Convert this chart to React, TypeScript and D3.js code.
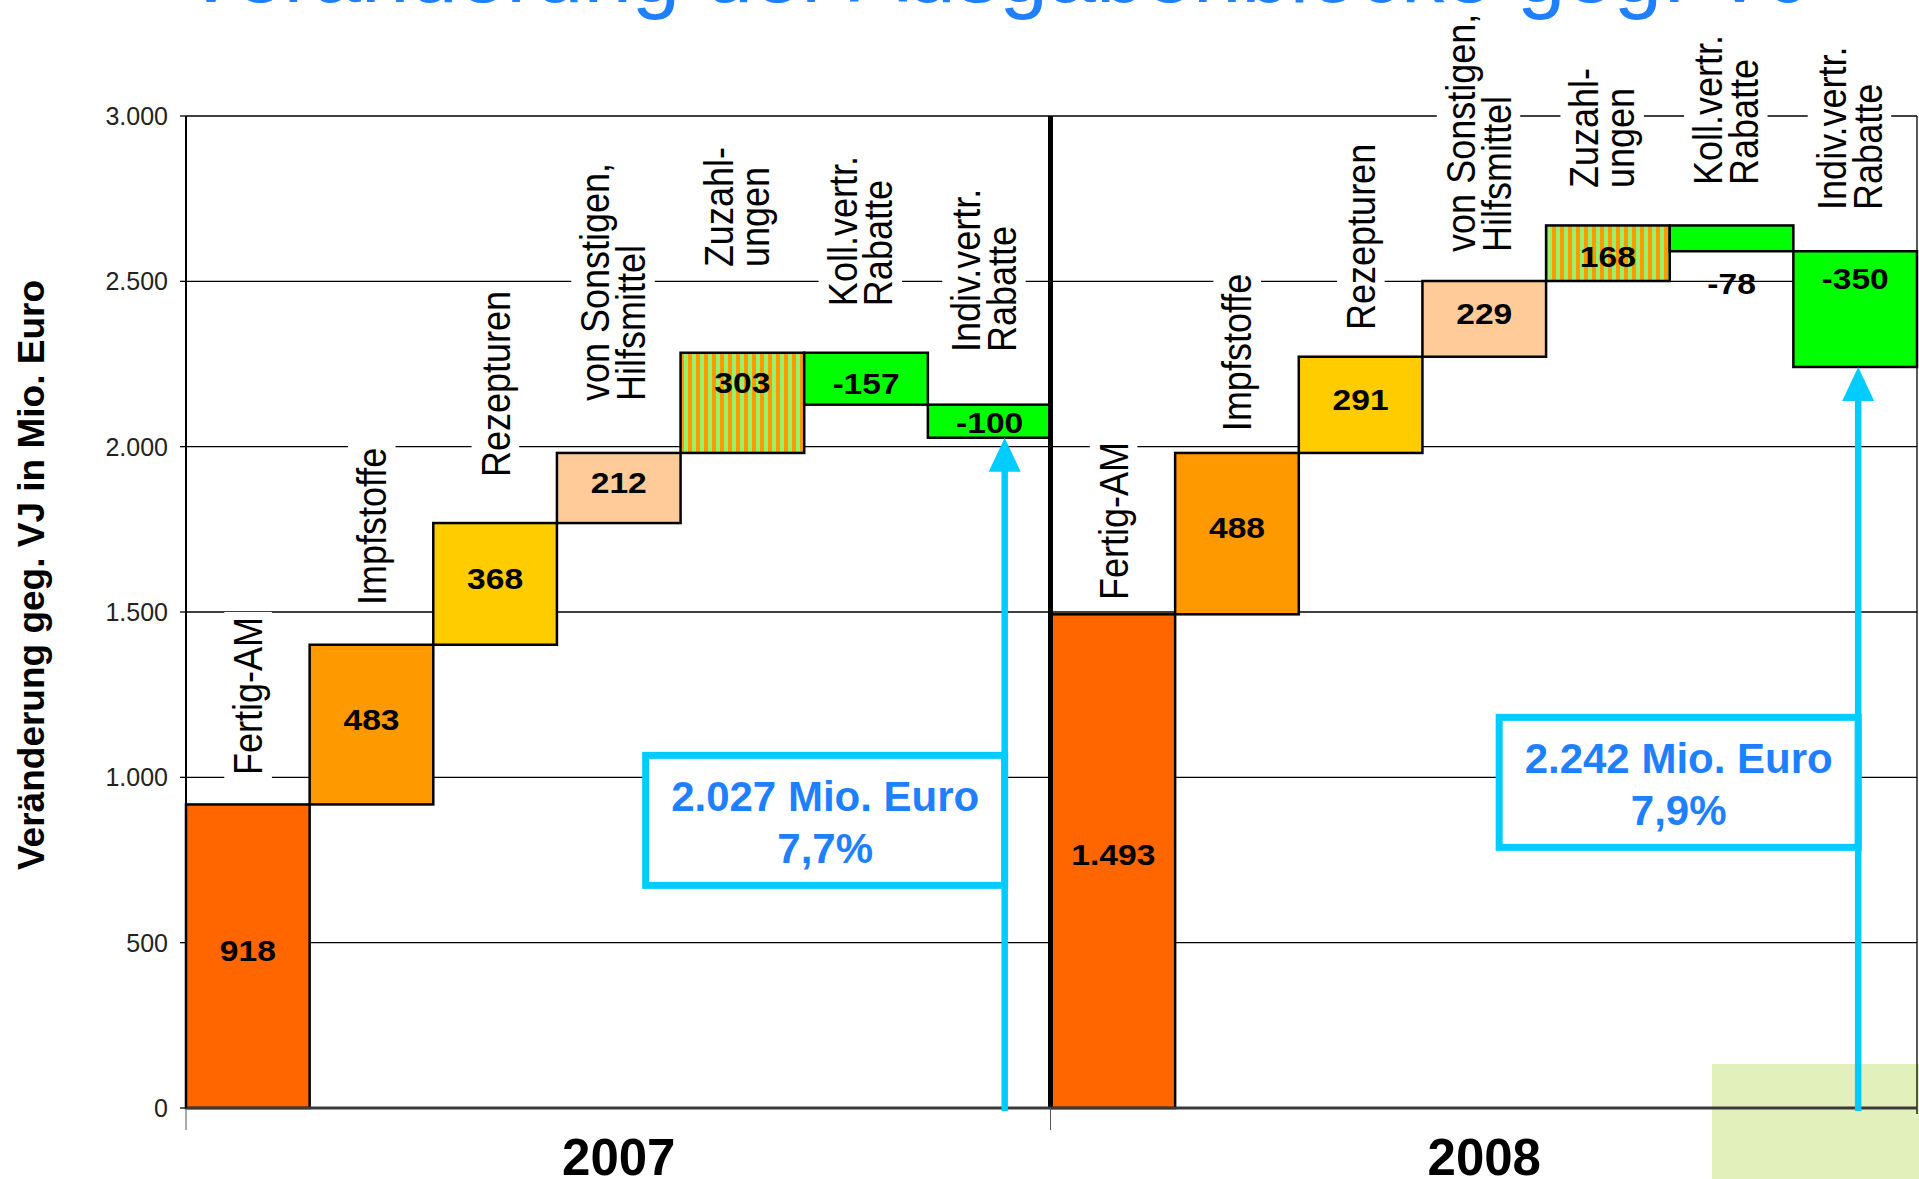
import React, { useEffect, useRef } from "react";
import * as d3 from "d3";

const W = 1919;
const H = 1179;

// ---------- data ----------
const title = "Veränderung der Ausgabenblöcke geg. VJ";
const yAxisTitle = "Veränderung geg. VJ in Mio. Euro";
const years = ["2007", "2008"];
const categories = [
  "Fertig-AM",
  "Impfstoffe",
  "Rezepturen",
  "von Sonstigen, Hilfsmittel",
  "Zuzahlungen",
  "Koll.vertr. Rabatte",
  "Indiv.vertr. Rabatte",
];
const categoryLines = [
  ["Fertig-AM"],
  ["Impfstoffe"],
  ["Rezepturen"],
  ["von Sonstigen,", "Hilfsmittel"],
  ["Zuzahl-", "ungen"],
  ["Koll.vertr.", "Rabatte"],
  ["Indiv.vertr.", "Rabatte"],
];
const values2007 = [918, 483, 368, 212, 303, -157, -100];
const values2008 = [1493, 488, 291, 229, 168, -78, -350];
// where the rotated category labels start (data units)
const labelAt2007 = [1007, 1521, 1908, 2138, 2543, 2425, 2286];
const labelAt2008 = [1536, 2047, 2353, 2589, 2782, 2791, 2716];
// where the value labels sit (data units)
const valueLabelAt2007 = [478, 1176, 1603, 1893, 2196, 2193, 2075];
const valueLabelAt2008 = [768, 1757, 2144, 2404, 2577, 2495, 2510];
const totalText = ["2.027 Mio. Euro", "2.242 Mio. Euro"];
const growthText = ["7,7%", "7,9%"];
const yTicks = [0, 500, 1000, 1500, 2000, 2500, 3000];
const fills = ["#ff6600", "#ff9900", "#ffcc00", "#ffcc99", "url(#stripes)", "#00ff00", "#00ff00"];

// ---------- layout ----------
const FONT = '"Liberation Sans", Arial, Helvetica, sans-serif';
const PLOT = { left: 186, right: 1917, top: 116, bottom: 1108 };
const BOX_TOP_VALUE = [1077, 1192];
const ARROW_DX = [15, 3];
const STRETCH = 1.12;

export default function App() {
  const ref = useRef<SVGSVGElement>(null);

  useEffect(() => {
    const svg = d3.select(ref.current);
    svg.selectAll("*").remove();

    const de = d3.formatLocale({ decimal: ",", thousands: ".", grouping: [3], currency: ["", " €"], minus: "-" } as any);
    const fmt = de.format(",d");

    const keys = years.flatMap((yr) => categories.map((c) => `${yr}|${c}`));
    const x = d3.scaleBand<string>().domain(keys).range([PLOT.left, PLOT.right]).padding(0);
    const y = d3.scaleLinear().domain([0, 3000]).range([PLOT.bottom, PLOT.top]);
    const bw = x.bandwidth();

    const defs = svg.append("defs");
    const pat = defs
      .append("pattern")
      .attr("id", "stripes")
      .attr("patternUnits", "userSpaceOnUse")
      .attr("width", 8)
      .attr("height", 8);
    pat.append("rect").attr("width", 8).attr("height", 8).attr("fill", "#ff9900");
    pat.append("rect").attr("x", 4).attr("width", 4).attr("height", 8).attr("fill", "#99f06c");

    // white page
    svg.append("rect").attr("width", W).attr("height", H).attr("fill", "#fff");
    // decorative slide corner
    svg.append("rect").attr("x", 1712).attr("y", 1064).attr("width", 207).attr("height", 115).attr("fill", "#e2f0bb");

    // title (cut off at top)
    svg
      .append("text")
      .attr("x", 182)
      .attr("y", 2)
      .attr("font-family", FONT)
      .attr("font-size", 87)
      .attr("fill", "#1e80ff")
      .text(title);

    // gridlines
    svg
      .append("g")
      .selectAll("line")
      .data(yTicks.filter((t) => t > 0))
      .join("line")
      .attr("x1", PLOT.left)
      .attr("x2", PLOT.right)
      .attr("y1", (d) => y(d))
      .attr("y2", (d) => y(d))
      .attr("stroke", "#000")
      .attr("stroke-width", 1.3);
    // right frame
    svg
      .append("line")
      .attr("x1", PLOT.right)
      .attr("x2", PLOT.right)
      .attr("y1", y(3000))
      .attr("y2", y(0) + 6)
      .attr("stroke", "#000")
      .attr("stroke-width", 1.3);

    const groups = [
      { yr: years[0], vals: values2007, labelAt: labelAt2007, valAt: valueLabelAt2007 },
      { yr: years[1], vals: values2008, labelAt: labelAt2008, valAt: valueLabelAt2008 },
    ];

    // category labels with white backgrounds
    const labelLayer = svg.append("g");
    groups.forEach((g) => {
      categories.forEach((c, i) => {
        const lines = categoryLines[i];
        const cx = (x(`${g.yr}|${c}`) as number) + bw / 2 + (lines.length > 1 ? -6 : 0);
        const gg = labelLayer
          .append("g")
          .attr("transform", `translate(${cx},${y(g.labelAt[i])}) scale(${STRETCH},1) rotate(-90)`);
        const fs = 36;
        const lh = 32;
        lines.forEach((ln, j) => {
          gg.append("text")
            .attr("x", 0)
            .attr("y", 0.36 * fs + (j - (lines.length - 1) / 2) * lh)
            .attr("font-family", FONT)
            .attr("font-size", fs)
            .attr("fill", "#000")
            .text(ln);
        });
        const bb = (gg.node() as SVGGElement).getBBox();
        gg.insert("rect", ":first-child")
          .attr("x", bb.x - 5)
          .attr("y", bb.y - 1)
          .attr("width", bb.width + 10)
          .attr("height", bb.height + 2)
          .attr("fill", "#fff");
      });
    });

    // bars
    const barLayer = svg.append("g");
    const valLayer = svg.append("g");
    groups.forEach((g) => {
      let cum = 0;
      g.vals.forEach((v, i) => {
        const start = cum;
        const end = cum + v;
        cum = end;
        const bx = x(`${g.yr}|${categories[i]}`) as number;
        barLayer
          .append("rect")
          .attr("x", bx)
          .attr("y", y(Math.max(start, end)))
          .attr("width", bw)
          .attr("height", Math.abs(y(start) - y(end)))
          .attr("fill", fills[i])
          .attr("stroke", "#000")
          .attr("stroke-width", 2.5);
        valLayer
          .append("g")
          .attr("transform", `translate(${bx + bw / 2},${y(g.valAt[i])}) scale(${STRETCH},1)`)
          .append("text")
          .attr("text-anchor", "middle")
          .attr("dy", "0.36em")
          .attr("font-family", FONT)
          .attr("font-weight", "bold")
          .attr("font-size", 30)
          .attr("fill", "#000")
          .text(fmt(v));
      });
    });

    // divider between years
    const divX = x(`${years[1]}|${categories[0]}`) as number;
    svg
      .append("line")
      .attr("x1", divX - 1)
      .attr("x2", divX - 1)
      .attr("y1", y(3000))
      .attr("y2", y(0))
      .attr("stroke", "#000")
      .attr("stroke-width", 5);

    // axes
    svg
      .append("line")
      .attr("x1", PLOT.left)
      .attr("x2", PLOT.right)
      .attr("y1", y(0))
      .attr("y2", y(0))
      .attr("stroke", "#3a3a3a")
      .attr("stroke-width", 3);
    svg
      .append("line")
      .attr("x1", PLOT.left)
      .attr("x2", PLOT.left)
      .attr("y1", y(3000))
      .attr("y2", y(0))
      .attr("stroke", "#000")
      .attr("stroke-width", 2);
    // bottom category-group ticks
    [PLOT.left, divX - 1].forEach((tx) => {
      svg
        .append("line")
        .attr("x1", tx)
        .attr("x2", tx)
        .attr("y1", y(0))
        .attr("y2", y(0) + 22)
        .attr("stroke", "#555")
        .attr("stroke-width", 1);
    });
    // y ticks + labels
    const yt = svg.append("g");
    yTicks.forEach((t) => {
      yt.append("line")
        .attr("x1", PLOT.left - 6)
        .attr("x2", PLOT.left)
        .attr("y1", y(t))
        .attr("y2", y(t))
        .attr("stroke", "#000")
        .attr("stroke-width", 1.3);
      yt.append("text")
        .attr("x", 168)
        .attr("y", y(t))
        .attr("dy", "0.36em")
        .attr("text-anchor", "end")
        .attr("font-family", FONT)
        .attr("font-size", 25)
        .attr("fill", "#222")
        .text(fmt(t));
    });

    // y axis title
    svg
      .append("text")
      .attr("transform", `translate(32,575) rotate(-90)`)
      .attr("text-anchor", "middle")
      .attr("dy", "0.32em")
      .attr("font-family", FONT)
      .attr("font-weight", "bold")
      .attr("font-size", 37)
      .attr("fill", "#000")
      .text(yAxisTitle);

    // year labels
    years.forEach((yr) => {
      const a = x(`${yr}|${categories[0]}`) as number;
      const b = (x(`${yr}|${categories[categories.length - 1]}`) as number) + bw;
      svg
        .append("text")
        .attr("x", (a + b) / 2)
        .attr("y", 1175)
        .attr("text-anchor", "middle")
        .attr("font-family", FONT)
        .attr("font-weight", "bold")
        .attr("font-size", 51)
        .attr("fill", "#000")
        .text(yr);
    });

    // total boxes + arrows
    groups.forEach((g, k) => {
      const total = d3.sum(g.vals);
      const last = x(`${g.yr}|${categories[categories.length - 1]}`) as number;
      const ax = last + bw / 2 + ARROW_DX[k];
      const top = y(BOX_TOP_VALUE[k]);
      const bwid = 359;
      const bh = 130;
      svg
        .append("rect")
        .attr("x", ax - bwid)
        .attr("y", top + 3.5)
        .attr("width", bwid)
        .attr("height", bh)
        .attr("fill", "#fff")
        .attr("stroke", "#00ccff")
        .attr("stroke-width", 7);
      const tcx = ax - bwid / 2;
      svg
        .append("text")
        .attr("x", tcx)
        .attr("y", top + 59)
        .attr("text-anchor", "middle")
        .attr("font-family", FONT)
        .attr("font-weight", "bold")
        .attr("font-size", 42)
        .attr("fill", "#1e80ff")
        .text(totalText[k]);
      svg
        .append("text")
        .attr("x", tcx)
        .attr("y", top + 111)
        .attr("text-anchor", "middle")
        .attr("font-family", FONT)
        .attr("font-weight", "bold")
        .attr("font-size", 42)
        .attr("fill", "#1e80ff")
        .text(growthText[k]);
      const tipY = y(total);
      svg
        .append("line")
        .attr("x1", ax)
        .attr("x2", ax)
        .attr("y1", y(0) + 3)
        .attr("y2", tipY + 30)
        .attr("stroke", "#00ccff")
        .attr("stroke-width", 6.5);
      svg
        .append("path")
        .attr("d", `M${ax},${tipY} L${ax - 16},${tipY + 34} L${ax + 16},${tipY + 34} Z`)
        .attr("fill", "#00ccff");
    });
  }, []);

  return (
    <svg
      ref={ref}
      width={W}
      height={H}
      style={{ position: "absolute", left: 0, top: 0, display: "block" }}
    />
  );
}
